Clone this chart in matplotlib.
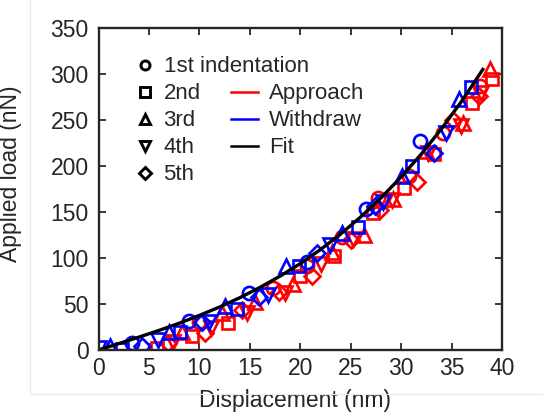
import matplotlib
matplotlib.use("Agg")
import matplotlib.pyplot as plt
from matplotlib.lines import Line2D

plt.rcParams['font.family'] = ['Liberation Sans', 'DejaVu Sans']

# withdraw (blue) points, one list per indentation
w1_x = [3.3, 9.0, 14.9, 20.7, 26.5, 31.9]
w1_y = [8, 31, 62, 96, 153, 227]
w2_x = [2.3, 8.1, 13.7, 19.9, 25.7, 31.1, 36.9]
w2_y = [1, 20, 45, 91, 134, 200, 286]
w3_x = [1.1, 7.0, 12.5, 18.6, 24.1, 30.1, 35.7]
w3_y = [4, 20, 48, 91, 127, 189, 273]
w4_x = [0.0, 5.9, 11.0, 16.8, 22.9, 28.2, 34.4]
w4_y = [2.5, 11, 30, 60, 114, 161, 236]
w5_x = [4.3, 10.3, 15.9, 21.7, 27.4, 33.3]
w5_y = [4, 30, 58, 105, 156, 214]

# approach (red) points
a1_x = [10.0, 17.3, 20.7, 24.1, 27.7, 30.8, 34.2, 37.8]
a1_y = [30, 67, 91, 123, 165, 189, 236, 287]
a2_x = [5.8, 9.3, 12.8, 20.0, 23.3, 27.2, 30.3, 33.3, 37.0, 39.0]
a2_y = [2, 15, 29, 80, 102, 149, 176, 213, 268, 295]
a3_x = [8.3, 12.2, 15.5, 19.3, 23.1, 26.3, 29.2, 32.5, 36.1, 38.8]
a3_y = [20, 40, 52, 72, 107, 125, 164, 216, 247, 305]
a4_x = [7.4, 11.2, 14.7, 18.5, 22.1, 25.2, 29.1, 32.7, 35.9, 37.9]
a4_y = [9, 24, 40, 62, 94, 121, 163, 214, 244, 279]
a5_x = [6.9, 10.6, 14.2, 17.9, 21.2, 25.0, 27.9, 31.6, 35.1, 37.7]
a5_y = [8, 18, 43, 63, 80, 120, 152, 183, 250, 276]

# fit curve
fit_x = [0, 2, 4, 6, 8, 10, 12, 14, 16, 18, 20, 22, 24, 26, 28, 30, 32, 34, 36, 38.1]
fit_y = [0, 6.9, 14.0, 21.3, 29.1, 37.6, 46.7, 56.8, 68.0, 80.3, 93.9, 109.1,
         126.0, 144.7, 165.3, 188.1, 213.0, 240.4, 270.4, 305]

labels_ind = ['1st indentation', '2nd', '3rd', '4th', '5th']
markers = ['o', 's', '^', 'v', 'D']
sizes = [9.5, 8, 9.5, 9.5, 8]

txt = '#262626'
fig = plt.figure(figsize=(5.43, 4.13), dpi=100)
ax = fig.add_axes([98.5 / 543, 1 - 350 / 413, 403.5 / 543, 322 / 413])

approach = [(a1_x, a1_y), (a2_x, a2_y), (a3_x, a3_y), (a4_x, a4_y), (a5_x, a5_y)]
withdraw = [(w1_x, w1_y), (w2_x, w2_y), (w3_x, w3_y), (w4_x, w4_y), (w5_x, w5_y)]
for (x, y), m, s in zip(approach, markers, sizes):
    ax.plot(x, y, linestyle='none', marker=m, ms=s, mfc='none', mec='#ff0000', mew=1.9)
for (x, y), m, s in zip(withdraw, markers, sizes):
    ax.plot(x, y, linestyle='none', marker=m, ms=s, mfc='none', mec='#0000ff', mew=1.9)
ax.plot(fit_x, fit_y, color='black', lw=2.4)

ax.set_xlim(0, 40)
ax.set_ylim(0, 350)
ax.set_xticks(range(0, 41, 5))
ax.set_yticks(range(0, 351, 50))
ax.tick_params(direction='in', length=5, width=1.3, top=True, right=True,
               labelsize=16.5, labelcolor=txt, color=txt)
ax.tick_params(axis='x', pad=5)
ax.tick_params(axis='y', pad=7)
for sp in ax.spines.values():
    sp.set_linewidth(1.7)
    sp.set_color(txt)

ax.set_xlabel('Displacement (nm)', fontsize=16.5, color=txt)
ax.set_ylabel('Applied load (nN)', fontsize=16.5, color=txt)
ax.xaxis.set_label_coords(0.488, -0.122)
ax.yaxis.set_label_coords(-0.19, 0.547)

h1 = [Line2D([], [], linestyle='none', marker=m, ms=6.5, mfc='none', mec='black', mew=2.1)
      for m in markers]
leg1 = ax.legend(h1, labels_ind, loc='upper left', bbox_to_anchor=(0.094, 0.912),
                 frameon=False, fontsize=16, labelcolor=txt, handlelength=0.8,
                 handletextpad=0.42, labelspacing=0.27, borderpad=0, borderaxespad=0)
ax.add_artist(leg1)
h2 = [Line2D([], [], color=c, lw=1.8) for c in ['#ff0000', '#0000ff', 'black']]
ax.legend(h2, ['Approach', 'Withdraw', 'Fit'], loc='upper left', bbox_to_anchor=(0.328, 0.828),
          frameon=False, fontsize=16, labelcolor=txt, handlelength=1.2,
          handletextpad=0.5, labelspacing=0.27, borderpad=0, borderaxespad=0)

# faint frame lines of the original screenshot
fig.add_artist(Line2D([30 / 543, 30 / 543], [1, 1 - 394 / 413], color='#e8e8e8', lw=0.8))
fig.add_artist(Line2D([30 / 543, 1], [1 - 394 / 413, 1 - 394 / 413], color='#e8e8e8', lw=0.8))

fig.savefig('out.png', dpi=100)
